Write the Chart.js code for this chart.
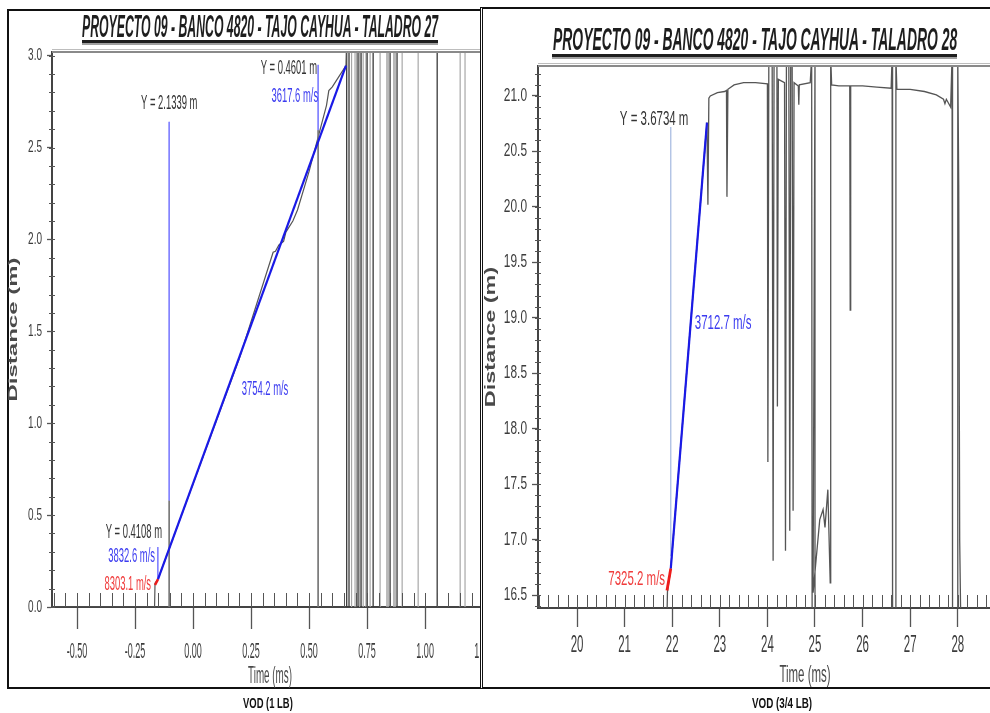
<!DOCTYPE html>
<html>
<head>
<meta charset="utf-8">
<script src="https://cdn.jsdelivr.net/npm/chart.js@4.4.1/dist/chart.umd.min.js"></script>
<style>
html,body{margin:0;padding:0;background:#fff;}
body{position:relative;width:990px;height:713px;overflow:hidden;font-family:'Liberation Sans',Arial,sans-serif;}
#boxL{position:absolute;left:7px;top:9px;width:520px;height:680px;border:2px solid #111;box-sizing:border-box;z-index:1;}
#cL{position:absolute;left:0;top:0;width:500px;height:713px;z-index:2;}
#boxR{position:absolute;left:480px;top:7px;width:560px;height:682px;border-top:2px solid #111;border-bottom:2px solid #111;border-left:3px double #111;box-sizing:border-box;background:#fff;z-index:3;}
#cR{position:absolute;left:483px;top:0;width:600px;height:713px;z-index:4;}
.ttl{position:absolute;white-space:nowrap;font-style:italic;font-weight:bold;font-size:20px;line-height:20px;transform-origin:0 0;color:#1e1e1e;z-index:6;}
.ul{position:absolute;background:#1e1e1e;box-shadow:0 2px 0 #a0a0a0;z-index:6;}
.cap{position:absolute;white-space:nowrap;font-weight:bold;font-size:20px;line-height:20px;transform-origin:0 0;color:#111;z-index:6;}
</style>
</head>
<body>
<div id="boxL"></div>
<canvas id="cL" width="500" height="713"></canvas>
<div id="boxR"></div>
<canvas id="cR" width="600" height="713"></canvas>
<div class="ttl" id="tL">PROYECTO 09 - BANCO 4820 - TAJO CAYHUA - TALADRO 27</div>
<div class="ul" style="left:82px;top:40px;width:356px;height:3px"></div>
<div class="ttl" id="tR">PROYECTO 09 - BANCO 4820 - TAJO CAYHUA - TALADRO 28</div>
<div class="ul" style="left:552px;top:54px;width:405px;height:3px"></div>
<div class="cap" id="vL">VOD (1 LB)</div>
<div class="cap" id="vR">VOD (3/4 LB)</div>
<script>
// ---------------- LEFT CHART DATA (Taladro 27) ----------------
const leftXTicks = [-0.5, -0.25, 0, 0.25, 0.5, 0.75, 1.0, 1.25];
const leftYTicks = [0, 0.5, 1.0, 1.5, 2.0, 2.5, 3.0];
const leftTraceTime = [-0.608, -0.166, -0.164, -0.151, 0.0, 0.2, 0.345, 0.355, 0.37, 0.39, 0.40, 0.43, 0.45, 0.5, 0.575, 0.585, 0.60, 0.62, 0.659, 0.662];
const leftTraceDist = [0, 0, 0.13, 0.152, 0.67, 1.355, 1.93, 1.935, 1.97, 1.99, 2.04, 2.10, 2.16, 2.37, 2.73, 2.81, 2.83, 2.87, 2.946, 3.1];
const leftFitTime = [-0.151, 0.659];
const leftFitDist = [0.152, 2.946];
const leftRedTime = [-0.164, -0.151];
const leftRedDist = [0.12, 0.152];
const leftCursorTime = [-0.103, 0.539, -0.152];
const leftCursorTop = [2.64, 2.95, 0.326];
const leftCursorBottom = [0.58, 2.595, 0.147];
const leftCursorTailTime = [-0.103, 0.539];
const leftCursorTailTop = [0.58, 2.595];
const leftSpikeDarkTime = [0.662, 0.672, 0.711, 0.724, 0.750, 0.776, 0.849, 0.879, 1.052];
const leftSpikeLightTime = [0.683, 0.698, 0.705, 0.718, 0.733, 0.745, 0.763, 0.806, 0.835, 0.841, 0.865, 0.871, 0.901, 0.970, 1.151, 1.172];
const leftSpikeHigh = 3.1;
const leftSpikeLow = 0;
const leftNotes = [
  {text: 'Y = 2.1339 m', x: -0.103, y: 2.742, color: '#333', align: 'center'},
  {text: 'Y = 0.4601 m', x: 0.534, y: 2.93, color: '#333', align: 'right'},
  {text: '3617.6 m/s', x: 0.539, y: 2.78, color: '#3c3cf0', align: 'right'},
  {text: '3754.2 m/s', x: 0.310, y: 1.186, color: '#3c3cf0', align: 'center'},
  {text: 'Y = 0.4108 m', x: -0.134, y: 0.403, color: '#333', align: 'right'},
  {text: '3832.6 m/s', x: -0.164, y: 0.277, color: '#3c3cf0', align: 'right'},
  {text: '8303.1 m/s', x: -0.181, y: 0.125, color: '#f03c3c', align: 'right'}
];

// ---------------- RIGHT CHART DATA (Taladro 28) ----------------
const rightXTicks = [20, 21, 22, 23, 24, 25, 26, 27, 28, 29, 30];
const rightYTicks = [16.5, 17.0, 17.5, 18.0, 18.5, 19.0, 19.5, 20.0, 20.5, 21.0];
const rightTraceTime = [19.18, 21.89, 21.90, 21.97, 22.30, 22.73, 22.75, 22.77, 22.80, 22.95, 23.10, 23.14, 23.15, 23.17, 23.30, 23.50, 23.75, 24.00,
  24.01, 24.03, 24.10, 24.12, 24.14, 24.20, 24.21, 24.23, 24.36, 24.38, 24.40, 24.45, 24.47, 24.49, 24.52, 24.54, 24.56, 24.65, 24.66, 24.67, 24.90,
  24.93, 24.94, 24.99, 25.00, 24.96, 25.10, 25.17, 25.21, 25.27, 25.32, 25.33, 25.35, 25.50, 25.73, 25.74, 25.75, 26.00, 26.30, 26.60, 26.62, 26.63,
  26.69, 26.70, 26.72, 27.00, 27.30, 27.55, 27.70, 27.73, 27.76, 27.85, 27.88, 27.89, 27.99, 28.00, 28.02, 28.04, 28.06, 30.40];
const rightTraceDist = [16.30, 16.30, 16.53, 16.74, 18.49, 20.76, 20.02, 20.98, 21.00, 21.03, 21.04, 21.05, 20.09, 21.06, 21.10, 21.12, 21.12, 21.11,
  17.70, 21.35, 21.35, 16.81, 21.35, 21.35, 18.20, 21.15, 21.12, 16.90, 21.35, 21.35, 17.08, 21.35, 21.35, 17.26, 21.12, 21.09, 20.92, 21.10, 21.12,
  21.35, 16.35, 16.35, 21.35, 16.52, 17.18, 17.27, 17.11, 17.45, 16.61, 21.35, 21.10, 21.09, 21.09, 19.07, 21.09, 21.09, 21.08, 21.07, 21.35, 16.35,
  16.35, 21.35, 21.06, 21.06, 21.04, 21.01, 20.97, 20.93, 20.97, 20.90, 21.35, 16.35, 16.35, 21.35, 20.20, 17.00, 16.35, 16.35];
const rightFitTime = [21.97, 22.73];
const rightFitDist = [16.74, 20.76];
const rightRedTime = [21.89, 21.97];
const rightRedDist = [16.54, 16.74];
const rightCursorTime = [21.97];
const rightCursorTop = [20.72];
const rightCursorBottom = [16.85];
const rightNotes = [
  {text: 'Y = 3.6734 m', x: 21.62, y: 20.79, color: '#333', align: 'center'},
  {text: '3712.7 m/s', x: 23.07, y: 18.95, color: '#3c3cf0', align: 'center'},
  {text: '7325.2 m/s', x: 21.85, y: 16.645, color: '#f03c3c', align: 'right'}
];

// ---------------- helpers ----------------
const FAM = "'Liberation Sans', Arial, sans-serif";
function pts(xs, ys) { return xs.map((x, i) => ({x: x, y: ys[i]})); }
function segs(xs, tops, bottoms) {
  const out = [];
  xs.forEach((x, i) => {
    const t = Array.isArray(tops) ? tops[i] : tops;
    const b = Array.isArray(bottoms) ? bottoms[i] : bottoms;
    out.push({x: x, y: t}, {x: x, y: b}, {x: x, y: null});
  });
  return out;
}
function ds(data, color, width, order) {
  return {data: data, borderColor: color, backgroundColor: color, borderWidth: width, showLine: true,
    pointRadius: 0, pointHoverRadius: 0, tension: 0, fill: false, spanGaps: false, order: order};
}

function stretchPlugin(cfg) {
  return {
    id: 'stretch',
    beforeInit(chart) {
      const ctx = chart.ctx;
      const orig = CanvasRenderingContext2D.prototype.fillText;
      ctx.fillText = function (text, x, y, mw) {
        const m = this.getTransform();
        let s;
        if (this.__note) s = cfg.note;
        else if (Math.abs(m.b) > 0.5) s = cfg.yt;
        else if (this.textAlign === 'right') s = cfg.yl;
        else s = cfg.xl;
        this.save();
        this.translate(x, y);
        this.scale(s[0], s[1]);
        if (mw === undefined || mw === null || !isFinite(mw)) orig.call(this, text, 0, 0);
        else orig.call(this, text, 0, 0, mw / s[0]);
        this.restore();
      };
    }
  };
}

const decorPlugin = {
  id: 'decor',
  afterDraw(chart, args, o) {
    const ctx = chart.ctx, a = chart.chartArea, xs = chart.scales.x, ys = chart.scales.y;
    ctx.save();
    // top frame line of plot
    ctx.strokeStyle = '#bdbdbd'; ctx.lineWidth = 1;
    ctx.beginPath(); ctx.moveTo(a.left, a.top - 2.5); ctx.lineTo(a.right, a.top - 2.5); ctx.stroke();
    ctx.strokeStyle = '#8a8a8a'; ctx.lineWidth = 2;
    ctx.beginPath(); ctx.moveTo(a.left, a.top); ctx.lineTo(a.right, a.top); ctx.stroke();
    // minor ticks
    ctx.strokeStyle = '#555'; ctx.lineWidth = 1;
    ctx.beginPath();
    for (let i = Math.ceil(xs.min / o.xStep - 1e-6); i * o.xStep <= xs.max + 1e-9; i++) {
      const px = Math.round(xs.getPixelForValue(i * o.xStep)) + 0.5;
      ctx.moveTo(px, a.bottom); ctx.lineTo(px, a.bottom - o.xLen);
    }
    for (let i = Math.ceil(ys.min / o.yStep - 1e-6); i * o.yStep <= ys.max + 1e-9; i++) {
      const py = Math.round(ys.getPixelForValue(i * o.yStep)) + 0.5;
      ctx.moveTo(a.left - 3, py); ctx.lineTo(a.left + o.yLen, py);
    }
    ctx.stroke();
    // annotations
    ctx.__note = true;
    ctx.textBaseline = 'middle';
    ctx.font = o.noteFont;
    o.notes.forEach(n => {
      ctx.fillStyle = n.color;
      ctx.textAlign = n.align;
      ctx.fillText(n.text, xs.getPixelForValue(n.x), ys.getPixelForValue(n.y));
    });
    ctx.__note = false;
    ctx.restore();
  }
};

function axisCfg(o) {
  return {
    type: 'linear', position: o.pos, min: o.min, max: o.max,
    afterBuildTicks: s => { s.ticks = o.ticks.map(v => ({value: v})); },
    afterFit: s => {
      if (o.pos === 'bottom') { s.height = o.size; s.paddingLeft = 0; s.paddingRight = 0; }
      else { s.width = o.size; s.paddingTop = 0; s.paddingBottom = 0; }
    },
    ticks: {callback: v => Number(v).toFixed(o.dec), autoSkip: false, maxRotation: 0, minRotation: 0,
      color: '#3c3c3c', font: {family: FAM, size: o.fs}, padding: o.pad},
    grid: {display: true, drawOnChartArea: false, drawTicks: true, tickLength: o.tl, tickColor: '#555', tickWidth: 1.3},
    border: {display: true, color: '#444', width: 2},
    title: {display: true, text: o.title, color: '#4a4a4a',
      font: {family: FAM, size: o.tfs, weight: o.bold ? 'bold' : 'normal'}, padding: o.tpad}
  };
}

// ---------------- LEFT CHART ----------------
new Chart(document.getElementById('cL'), {
  type: 'scatter',
  data: {datasets: [
    ds(pts(leftFitTime, leftFitDist), '#1a1ae6', 2.2, 0),
    ds(pts(leftRedTime, leftRedDist), '#ee1c1c', 2.5, 0),
    ds(segs(leftCursorTime, leftCursorTop, leftCursorBottom), '#8080ff', 1, 2),
    ds(segs(leftCursorTailTime, leftCursorTailTop, leftSpikeLow), '#777', 1, 3),
    ds(pts(leftTraceTime, leftTraceDist), '#555', 1.2, 4),
    ds(segs(leftSpikeDarkTime, leftSpikeHigh, leftSpikeLow), '#3a3a3a', 1.3, 5),
    ds(segs(leftSpikeLightTime, leftSpikeHigh, leftSpikeLow), '#a8a8a8', 1.2, 6)
  ]},
  options: {
    responsive: false, animation: false, events: [],
    layout: {padding: {left: 0, top: 52, right: 12, bottom: 26}},
    plugins: {legend: {display: false}, tooltip: {enabled: false},
      decor: {xStep: 0.05, xLen: 14, yStep: 0.1, yLen: 3, notes: leftNotes, noteFont: '11.5px ' + FAM}},
    scales: {
      x: axisCfg({pos: 'bottom', min: -0.608, max: 1.271, ticks: leftXTicks, dec: 2, size: 80, fs: 11, pad: 16, tl: 22,
        title: 'Time (ms)', tfs: 12, bold: false, tpad: {top: 0, bottom: 3}}),
      y: axisCfg({pos: 'left', min: 0, max: 3.02, ticks: leftYTicks, dec: 1, size: 52, fs: 12.5, pad: 5, tl: 5,
        title: 'Distance (m)', tfs: 12, bold: true, tpad: {top: 6, bottom: 0}})
    }
  },
  plugins: [stretchPlugin({xl: [0.82, 2.0], yl: [0.8, 1.35], yt: [2.0, 1.0], note: [0.82, 1.75]}), decorPlugin]
});

// ---------------- RIGHT CHART ----------------
new Chart(document.getElementById('cR'), {
  type: 'scatter',
  data: {datasets: [
    ds(pts(rightFitTime, rightFitDist), '#1a1ae6', 2.2, 0),
    ds(pts(rightRedTime, rightRedDist), '#ee1c1c', 2.8, 0),
    ds(segs(rightCursorTime, rightCursorTop, rightCursorBottom), '#a3b8e0', 1.2, 2),
    ds(pts(rightTraceTime, rightTraceDist), '#555', 1.3, 4)
  ]},
  options: {
    responsive: false, animation: false, events: [],
    layout: {padding: {left: 0, top: 66, right: 11, bottom: 27}},
    plugins: {legend: {display: false}, tooltip: {enabled: false},
      decor: {xStep: 0.2, xLen: 13, yStep: 0.1, yLen: 3, notes: rightNotes, noteFont: '14px ' + FAM}},
    scales: {
      x: axisCfg({pos: 'bottom', min: 19.18, max: 30.40, ticks: rightXTicks, dec: 0, size: 78, fs: 14, pad: 10, tl: 19,
        title: 'Time (ms)', tfs: 14, bold: false, tpad: {top: 0, bottom: 2}}),
      y: axisCfg({pos: 'left', min: 16.383, max: 21.27, ticks: rightYTicks, dec: 1, size: 55, fs: 14.5, pad: 5, tl: 6,
        title: 'Distance (m)', tfs: 13, bold: true, tpad: {top: 0, bottom: 0}})
    }
  },
  plugins: [stretchPlugin({xl: [0.82, 1.7], yl: [0.82, 1.25], yt: [1.8, 1.1], note: [0.82, 1.5]}), decorPlugin]
});

// ---------------- HTML titles / captions sizing ----------------
function fitText(id, left, capTop, width, capH) {
  const el = document.getElementById(id);
  const fs = 20, cap = 0.716 * fs;
  const capTopOff = ((20 - 1.117 * fs) / 2 + 0.905 * fs) - cap;
  const sx = width / el.offsetWidth, sy = capH / cap;
  el.style.left = left + 'px';
  el.style.top = (capTop - capTopOff * sy) + 'px';
  el.style.transform = 'scale(' + sx + ',' + sy + ')';
}
fitText('tL', 82, 15, 356, 22);
fitText('tR', 553, 27, 404, 23);
fitText('vL', 243, 697, 50, 11);
fitText('vR', 752, 697, 60, 11);
</script>
</body>
</html>
